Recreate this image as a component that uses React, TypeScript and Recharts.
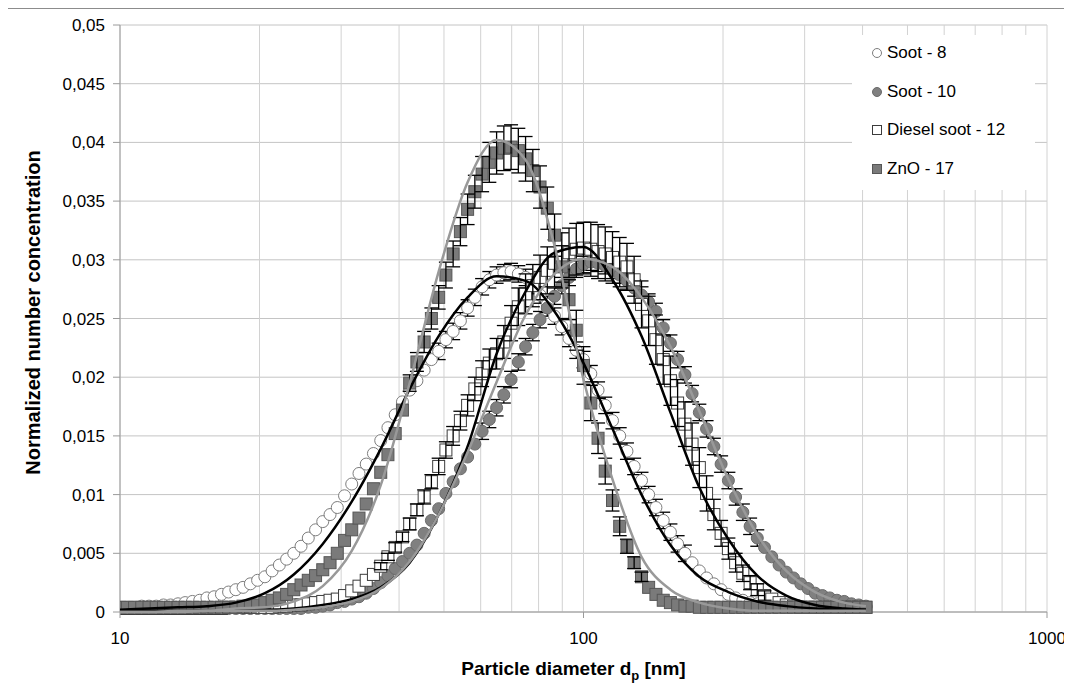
import React from 'react';
import {
  ComposedChart,
  Scatter,
  Line,
  XAxis,
  YAxis,
  CartesianGrid,
  ErrorBar,
  Legend,
  Label
} from 'recharts';

// SMPS channel mid-point diameters [nm], 64 channels per decade
const diameters = [
  10.0, 10.37, 10.75, 11.14, 11.55, 11.97, 12.41, 12.86, 13.34, 13.82,
  14.33, 14.86, 15.4, 15.96, 16.55, 17.15, 17.78, 18.43, 19.11, 19.81,
  20.54, 21.29, 22.07, 22.88, 23.71, 24.58, 25.48, 26.42, 27.38, 28.39,
  29.43, 30.51, 31.62, 32.78, 33.98, 35.22, 36.52, 37.85, 39.24, 40.68,
  42.17, 43.71, 45.31, 46.97, 48.7, 50.48, 52.33, 54.25, 56.23, 58.29,
  60.43, 62.64, 64.94, 67.32, 69.78, 72.34, 74.99, 77.74, 80.58, 83.54,
  86.6, 89.77, 93.06, 96.47, 100.0, 103.7, 107.5, 111.4, 115.5, 119.7,
  124.1, 128.6, 133.4, 138.2, 143.3, 148.6, 154.0, 159.6, 165.5, 171.5,
  177.8, 184.3, 191.1, 198.1, 205.4, 212.9, 220.7, 228.8, 237.1, 245.8,
  254.8, 264.2, 273.8, 283.9, 294.3, 305.1, 316.2, 327.8, 339.8, 352.2,
  365.2, 378.5, 392.4, 406.8
];

const soot8 = [
  0.0004, 0.0004, 0.0004, 0.0005, 0.0005, 0.0005, 0.0006, 0.0006, 0.0007, 0.0008,
  0.0009, 0.0010, 0.0012, 0.0013, 0.0015, 0.0017, 0.0019, 0.0021, 0.0024, 0.0027,
  0.0030, 0.0035, 0.0040, 0.0045, 0.0050, 0.0056, 0.0063, 0.0070, 0.0077, 0.0083,
  0.0089, 0.0099, 0.0109, 0.0118, 0.0126, 0.0135, 0.0146, 0.0157, 0.0168, 0.0179,
  0.0189, 0.0197, 0.0206, 0.0215, 0.0222, 0.0232, 0.0239, 0.0248, 0.0259, 0.0268,
  0.0277, 0.0283, 0.0287, 0.0289, 0.0290, 0.0288, 0.0285, 0.0278, 0.0270, 0.0262,
  0.0252, 0.0243, 0.0233, 0.0223, 0.0215, 0.0203, 0.0189, 0.0176, 0.0163, 0.0150,
  0.0137, 0.0124, 0.0112, 0.0100, 0.0089, 0.0078, 0.0068, 0.0058, 0.0050, 0.0042,
  0.0035, 0.0029, 0.0024, 0.0019, 0.0015, 0.0012, 0.0010, 0.0008, 0.0007, 0.0006,
  0.0005, 0.0005, 0.0004, 0.0004, 0.0004, 0.0004, 0.0004, 0.0004, 0.0004, 0.0004,
  0.0004, 0.0004, 0.0004, 0.0004
];

const soot10 = [
  0.0003, 0.0003, 0.0003, 0.0003, 0.0003, 0.0003, 0.0003, 0.0003, 0.0003, 0.0003,
  0.0003, 0.0003, 0.0003, 0.0003, 0.0003, 0.0003, 0.0003, 0.0003, 0.0003, 0.0003,
  0.0003, 0.0003, 0.0003, 0.0003, 0.0003, 0.0003, 0.0004, 0.0004, 0.0005, 0.0006,
  0.0008, 0.0009, 0.0011, 0.0013, 0.0016, 0.0020, 0.0025, 0.0031, 0.0037, 0.0043,
  0.0050, 0.0057, 0.0067, 0.0078, 0.0088, 0.0101, 0.0111, 0.0122, 0.0132, 0.0143,
  0.0154, 0.0164, 0.0174, 0.0185, 0.0198, 0.0213, 0.0226, 0.0238, 0.0249, 0.0259,
  0.0269, 0.0278, 0.0285, 0.0292, 0.0296, 0.0298, 0.0297, 0.0295, 0.0291, 0.0287,
  0.0282, 0.0276, 0.0270, 0.0264, 0.0256, 0.0242, 0.0229, 0.0215, 0.0202, 0.0186,
  0.0170, 0.0156, 0.0141, 0.0126, 0.0112, 0.0098, 0.0085, 0.0073, 0.0063, 0.0055,
  0.0047, 0.0040, 0.0034, 0.0029, 0.0024, 0.0020, 0.0016, 0.0014, 0.0012, 0.0010,
  0.0009, 0.0007, 0.0006, 0.0005
];

const dieselSoot = [
  0.0003, 0.0003, 0.0003, 0.0003, 0.0003, 0.0003, 0.0003, 0.0003, 0.0003, 0.0003,
  0.0003, 0.0003, 0.0003, 0.0003, 0.0003, 0.0004, 0.0004, 0.0004, 0.0004, 0.0004,
  0.0004, 0.0004, 0.0005, 0.0005, 0.0006, 0.0006, 0.0007, 0.0008, 0.0009, 0.0010,
  0.0011, 0.0014, 0.0018, 0.0022, 0.0027, 0.0032, 0.0039, 0.0047, 0.0055, 0.0064,
  0.0075, 0.0087, 0.0098, 0.0111, 0.0124, 0.0138, 0.0150, 0.0163, 0.0176, 0.0190,
  0.0203, 0.0212, 0.0220, 0.0230, 0.0246, 0.0260, 0.0271, 0.0278, 0.0285, 0.0291,
  0.0297, 0.0302, 0.0306, 0.0309, 0.0310, 0.0309, 0.0307, 0.0305, 0.0302, 0.0298,
  0.0294, 0.0283, 0.0262, 0.0248, 0.0232, 0.0215, 0.0197, 0.0178, 0.0160, 0.0143,
  0.0123, 0.0101, 0.0083, 0.0067, 0.0054, 0.0042, 0.0033, 0.0025, 0.0019, 0.0014,
  0.0011, 0.0008, 0.0006, 0.0005, 0.0004, 0.0004, 0.0004, 0.0004, 0.0004, 0.0004,
  0.0004, 0.0004, 0.0004, 0.0004
];

const zno = [
  0.0004, 0.0004, 0.0004, 0.0004, 0.0004, 0.0004, 0.0004, 0.0004, 0.0004, 0.0004,
  0.0004, 0.0004, 0.0004, 0.0004, 0.0004, 0.0004, 0.0004, 0.0005, 0.0005, 0.0006,
  0.0008, 0.0010, 0.0012, 0.0015, 0.0019, 0.0023, 0.0027, 0.0031, 0.0036, 0.0042,
  0.0050, 0.0061, 0.0070, 0.0080, 0.0092, 0.0105, 0.0119, 0.0134, 0.0152, 0.0172,
  0.0195, 0.0213, 0.0230, 0.0250, 0.0268, 0.0287, 0.0305, 0.0324, 0.0343, 0.0358,
  0.0373, 0.0383, 0.0391, 0.0395, 0.0396, 0.0393, 0.0386, 0.0376, 0.0362, 0.0344,
  0.0321, 0.0294, 0.0266, 0.0240, 0.0210, 0.0178, 0.0148, 0.0120, 0.0095, 0.0073,
  0.0056, 0.0042, 0.0030, 0.0021, 0.0015, 0.0010, 0.0008, 0.0006, 0.0005, 0.0005,
  0.0004, 0.0004, 0.0004, 0.0004, 0.0004, 0.0004, 0.0004, 0.0004, 0.0004, 0.0004,
  0.0004, 0.0004, 0.0004, 0.0004, 0.0004, 0.0004, 0.0004, 0.0004, 0.0004, 0.0004,
  0.0004, 0.0004, 0.0004, 0.0004
];

// standard deviations (error bars)
const soot8Err = [
  0, 0, 0, 0, 0, 0, 0, 0, 0, 0,
  0, 0, 0, 0, 0, 0, 0, 0, 0, 0,
  0, 0, 0, 0, 0, 0, 0, 0, 0, 0,
  0, 0, 0, 0, 0, 0, 0, 0, 0, 0,
  0, 0, 0, 0, 0.0007, 0.0007, 0.0007, 0.0007, 0.0007, 0.0007,
  0.0007, 0.0007, 0.0007, 0.0007, 0.0007, 0.0007, 0.0007, 0.0007, 0.0007, 0.0007,
  0.0007, 0.0007, 0.0007, 0.0007, 0.0007, 0.0007, 0.0007, 0.0007, 0.0007, 0.0007,
  0.0007, 0.0007, 0.0007, 0.0007, 0.0007, 0.0007, 0.0007, 0.0007, 0.0007, 0,
  0, 0, 0, 0, 0, 0, 0, 0, 0, 0,
  0, 0, 0, 0, 0, 0, 0, 0, 0, 0,
  0, 0, 0, 0
];

const soot10Err = [
  0, 0, 0, 0, 0, 0, 0, 0, 0, 0,
  0, 0, 0, 0, 0, 0, 0, 0, 0, 0,
  0, 0, 0, 0, 0, 0, 0, 0, 0, 0,
  0, 0, 0, 0, 0, 0, 0, 0, 0, 0,
  0, 0, 0, 0, 0, 0, 0, 0, 0, 0,
  0.0007, 0.0007, 0.0007, 0.0007, 0.0007, 0.0007, 0.0007, 0.0007, 0.0007, 0.0007,
  0.0007, 0.0007, 0.0007, 0.0007, 0.0007, 0.0007, 0.0007, 0.0007, 0.0007, 0.0007,
  0.0007, 0.0007, 0.0007, 0.0007, 0.0007, 0.0007, 0.0007, 0.0007, 0.0007, 0.0007,
  0.0007, 0.0007, 0.0007, 0.0007, 0.0007, 0.0007, 0.0007, 0.0007, 0.0007, 0,
  0, 0, 0, 0, 0, 0, 0, 0, 0, 0,
  0, 0, 0, 0
];

const dieselSootErr = [
  0, 0, 0, 0, 0, 0, 0, 0, 0, 0,
  0, 0, 0, 0, 0, 0, 0, 0, 0, 0,
  0, 0, 0, 0, 0, 0, 0, 0, 0, 0,
  0, 0, 0, 0, 0, 0, 0.0003, 0.0003, 0.0004, 0.0004,
  0.0005, 0.0005, 0.0006, 0.0006, 0.0007, 0.0007, 0.0008, 0.0008, 0.0009, 0.0010,
  0.0011, 0.0012, 0.0013, 0.0014, 0.0015, 0.0016, 0.0017, 0.0018, 0.0019, 0.0020,
  0.0020, 0.0021, 0.0021, 0.0022, 0.0022, 0.0023, 0.0023, 0.0023, 0.0022, 0.0021,
  0.0020, 0.0020, 0.0020, 0.0021, 0.0021, 0.0021, 0.0021, 0.0020, 0.0019, 0.0018,
  0.0017, 0.0015, 0.0013, 0.0011, 0.0009, 0.0008, 0.0007, 0.0006, 0.0005, 0.0004,
  0, 0, 0, 0, 0, 0, 0, 0, 0, 0,
  0, 0, 0, 0
];

const znoErr = [
  0, 0, 0, 0, 0, 0, 0, 0, 0, 0,
  0, 0, 0, 0, 0, 0, 0, 0, 0, 0,
  0, 0, 0, 0, 0, 0, 0, 0, 0, 0,
  0, 0, 0, 0, 0, 0, 0, 0, 0, 0,
  0.0007, 0.0008, 0.0009, 0.0009, 0.0010, 0.0011, 0.0011, 0.0012, 0.0013, 0.0014,
  0.0015, 0.0017, 0.0018, 0.0019, 0.0019, 0.0019, 0.0019, 0.0018, 0.0018, 0.0018,
  0.0018, 0.0018, 0.0017, 0.0017, 0.0016, 0.0015, 0.0013, 0.0011, 0.0009, 0.0008,
  0.0006, 0.0005, 0.0004, 0, 0, 0, 0, 0, 0, 0,
  0, 0, 0, 0, 0, 0, 0, 0, 0, 0,
  0, 0, 0, 0, 0, 0, 0, 0, 0, 0,
  0, 0, 0, 0
];

// lognormal fits, read every 4th channel
const fitDiameters = [
  10.0, 11.55, 13.34, 15.4, 17.78, 20.54, 23.71, 27.38, 31.62, 36.52,
  42.17, 48.7, 56.23, 64.94, 74.99, 86.6, 100.0, 115.5, 133.4, 154.0,
  177.8, 205.4, 237.1, 273.8, 316.2, 365.2, 406.8
];
const soot8Fit = [
  0.0002, 0.0003, 0.0004, 0.0005, 0.0008, 0.0016, 0.0032, 0.0058, 0.0094, 0.0139,
  0.0190, 0.0235, 0.0268, 0.0286, 0.0282, 0.0256, 0.0212, 0.0156, 0.0100, 0.0057,
  0.0030, 0.0017, 0.0009, 0.0005, 0.0003, 0.0002, 0.0002
];
const soot10Fit = [
  0.0000, 0.0000, 0.0000, 0.0001, 0.0001, 0.0001, 0.0002, 0.0004, 0.0009, 0.0020,
  0.0043, 0.0083, 0.0136, 0.0196, 0.0253, 0.0288, 0.0301, 0.0294, 0.0268, 0.0226,
  0.0171, 0.0113, 0.0066, 0.0035, 0.0017, 0.0008, 0.0005
];
const dieselSootFit = [
  0.0001, 0.0001, 0.0001, 0.0001, 0.0002, 0.0002, 0.0003, 0.0006, 0.0011, 0.0021,
  0.0042, 0.0083, 0.0141, 0.0220, 0.0273, 0.0306, 0.0311, 0.0283, 0.0235, 0.0170,
  0.0106, 0.0062, 0.0031, 0.0014, 0.0006, 0.0003, 0.0002
];
const znoFit = [
  0.0000, 0.0000, 0.0001, 0.0001, 0.0003, 0.0004, 0.0009, 0.0022, 0.0052, 0.0108,
  0.0195, 0.0290, 0.0366, 0.0402, 0.0385, 0.0312, 0.0198, 0.0113, 0.0047, 0.0019,
  0.0008, 0.0003, 0.0001, 0.0001, 0.0001, 0.0001, 0.0001
];

const xTicks = [
  10, 20, 30, 40, 50, 60, 70, 80, 90,
  100, 200, 300, 400, 500, 600, 700, 800, 900, 1000
];
const xLabels = [10, 100, 1000];
const yTicks = [0, 0.005, 0.01, 0.015, 0.02, 0.025, 0.03, 0.035, 0.04, 0.045, 0.05];

const FONT = "'Liberation Sans', Arial, sans-serif";

const toRows = (values: number[], errors: number[]) =>
  diameters.map((d, i) => ({ d, v: values[i], e: errors[i] || undefined }));
const toFitRows = (values: number[]) =>
  fitDiameters.map((d, i) => ({ d, v: values[i] }));

const formatY = (v: number) =>
  v === 0 ? '0' : String(parseFloat(v.toFixed(3))).replace('.', ',');

const openCircle = (p: any) => (
  <circle cx={p.cx} cy={p.cy} r={6} fill="#fff" stroke="#7d7d7d" strokeWidth={1} />
);
const filledCircle = (p: any) => (
  <circle cx={p.cx} cy={p.cy} r={6} fill="#808080" stroke="#6a6a6a" strokeWidth={1} />
);
const openSquare = (p: any) => (
  <rect x={p.cx - 6} y={p.cy - 6} width={12} height={12} fill="#fff" stroke="#3c3c3c" strokeWidth={1} />
);
const filledSquare = (p: any) => (
  <rect x={p.cx - 6} y={p.cy - 6} width={12} height={12} fill="#7a7a7a" stroke="#565656" strokeWidth={1} />
);
const noMarker = () => <g />;

const legendItems = [
  { name: 'Soot - 8', kind: 'openCircle' },
  { name: 'Soot - 10', kind: 'filledCircle' },
  { name: 'Diesel soot - 12', kind: 'openSquare' },
  { name: 'ZnO - 17', kind: 'filledSquare' }
];

function LegendMarker({ kind }: { kind: string }) {
  return (
    <svg width={12} height={12} style={{ position: 'absolute', left: 19, top: 4 }}>
      {kind === 'openCircle' && <circle cx={6} cy={6} r={4.5} fill="#fff" stroke="#7d7d7d" />}
      {kind === 'filledCircle' && <circle cx={6} cy={6} r={4.5} fill="#808080" stroke="#6a6a6a" />}
      {kind === 'openSquare' && <rect x={1.5} y={1.5} width={9} height={9} fill="#fff" stroke="#3c3c3c" />}
      {kind === 'filledSquare' && <rect x={1.5} y={1.5} width={9} height={9} fill="#7a7a7a" stroke="#565656" />}
    </svg>
  );
}

function renderLegend() {
  return (
    <div style={{ position: 'relative', width: 183, height: 155, background: '#fff' }}>
      {legendItems.map((item, k) => (
        <div
          key={item.name}
          style={{ position: 'absolute', left: 0, top: 8 + k * 38.7, height: 20, width: 183 }}
        >
          <LegendMarker kind={item.kind} />
          <span
            style={{
              position: 'absolute',
              left: 35,
              top: 0,
              lineHeight: '20px',
              fontFamily: FONT,
              fontSize: 17,
              color: '#000',
              whiteSpace: 'nowrap'
            }}
          >
            {item.name}
          </span>
        </div>
      ))}
    </div>
  );
}

function XTick({ x, y, payload }: any) {
  if (!xLabels.includes(payload.value)) return <g />;
  return (
    <g>
      <line x1={x} x2={x} y1={y - 16} y2={y - 10} stroke="#9a9a9a" />
      <text x={x} y={y + 16} textAnchor="middle" fontFamily={FONT} fontSize={17} fill="#000">
        {payload.value}
      </text>
    </g>
  );
}

const errorBarProps = { dataKey: 'e', direction: 'y' as const, width: 7, stroke: '#000', strokeWidth: 1.3 };

export default function App() {
  const soot8Rows = toRows(soot8, soot8Err);
  const soot10Rows = toRows(soot10, soot10Err);
  const dieselRows = toRows(dieselSoot, dieselSootErr);
  const znoRows = toRows(zno, znoErr);
  return (
    <div
      style={{
        marginLeft: -1,
        width: 1065,
        height: 682,
        boxSizing: 'border-box',
        borderLeft: '1px solid #8c8c8c',
        borderTop: '1px solid #8c8c8c',
        position: 'relative',
        overflow: 'hidden',
        background: '#fff'
      }}
    >
      <ComposedChart width={1064} height={681} margin={{ top: 16, right: 25, bottom: 0, left: 0 }}>
        <CartesianGrid vertical={false} stroke="#c4c4c4" />
        <CartesianGrid horizontal={false} stroke="#d2d2d2" />
        <XAxis
          type="number"
          dataKey="d"
          scale="log"
          domain={[10, 1000]}
          allowDataOverflow
          ticks={xTicks}
          interval={0}
          height={78}
          tickSize={6}
          tickMargin={10}
          tickLine={false}
          axisLine={{ stroke: '#9a9a9a' }}
          tick={<XTick />}
        >
          <Label
            content={({ viewBox }: any) => (
              <text
                x={viewBox.x + viewBox.width / 2 - 10}
                y={viewBox.y + 63}
                textAnchor="middle"
                fontFamily={FONT}
                fontSize={19}
                fontWeight="bold"
                fill="#000"
              >
                Particle diameter d
                <tspan dy={5} fontSize={13}>p</tspan>
                <tspan dy={-5}> [nm]</tspan>
              </text>
            )}
          />
        </XAxis>
        <YAxis
          type="number"
          domain={[0, 0.05]}
          ticks={yTicks}
          interval={0}
          width={112}
          tickSize={7}
          tickMargin={8}
          tickFormatter={formatY}
          axisLine={{ stroke: '#9a9a9a' }}
          tickLine={{ stroke: '#9a9a9a' }}
          tick={{ fontFamily: FONT, fontSize: 17, fill: '#000' }}
        >
          <Label
            content={({ viewBox }: any) => {
              const cx = viewBox.x + 25;
              const cy = viewBox.y + viewBox.height / 2 - 6;
              return (
                <text
                  x={cx}
                  y={cy}
                  transform={`rotate(-90, ${cx}, ${cy})`}
                  textAnchor="middle"
                  dominantBaseline="central"
                  fontFamily={FONT}
                  fontSize={20}
                  fontWeight="bold"
                  fill="#000"
                >
                  Normalized number concentration
                </text>
              );
            }}
          />
        </YAxis>
        <Legend
          layout="vertical"
          align="center"
          verticalAlign="middle"
          wrapperStyle={{ left: 844, top: 26, width: 183, height: 155 }}
          content={renderLegend}
        />

        {/* soot: error bars sit behind the markers, only the caps peek out */}
        <Scatter data={soot8Rows} dataKey="v" shape={noMarker} zIndex={500} isAnimationActive={false}>
          <ErrorBar {...errorBarProps} zIndex={500} isAnimationActive={false} />
        </Scatter>
        <Scatter data={soot10Rows} dataKey="v" shape={noMarker} zIndex={500} isAnimationActive={false}>
          <ErrorBar {...errorBarProps} zIndex={500} isAnimationActive={false} />
        </Scatter>
        <Scatter data={soot8Rows} dataKey="v" shape={openCircle} zIndex={600} isAnimationActive={false} />
        <Scatter data={soot10Rows} dataKey="v" shape={filledCircle} zIndex={600} isAnimationActive={false} />

        {/* diesel soot and ZnO: error bars drawn over their markers */}
        <Scatter data={dieselRows} dataKey="v" shape={openSquare} zIndex={600} isAnimationActive={false} />
        <Scatter data={dieselRows} dataKey="v" shape={noMarker} zIndex={600} isAnimationActive={false}>
          <ErrorBar {...errorBarProps} zIndex={600} isAnimationActive={false} />
        </Scatter>
        <Scatter data={znoRows} dataKey="v" shape={filledSquare} zIndex={600} isAnimationActive={false} />
        <Scatter data={znoRows} dataKey="v" shape={noMarker} zIndex={600} isAnimationActive={false}>
          <ErrorBar {...errorBarProps} zIndex={600} isAnimationActive={false} />
        </Scatter>

        <Line data={toFitRows(soot8Fit)} dataKey="v" type="monotone" stroke="#000" strokeWidth={2.5} dot={false} zIndex={700} isAnimationActive={false} />
        <Line data={toFitRows(dieselSootFit)} dataKey="v" type="monotone" stroke="#000" strokeWidth={2.5} dot={false} zIndex={700} isAnimationActive={false} />
        <Line data={toFitRows(znoFit)} dataKey="v" type="monotone" stroke="#999" strokeWidth={2.5} dot={false} zIndex={700} isAnimationActive={false} />
        <Line data={toFitRows(soot10Fit)} dataKey="v" type="monotone" stroke="#999" strokeWidth={2.5} dot={false} zIndex={700} isAnimationActive={false} />
      </ComposedChart>
    </div>
  );
}
